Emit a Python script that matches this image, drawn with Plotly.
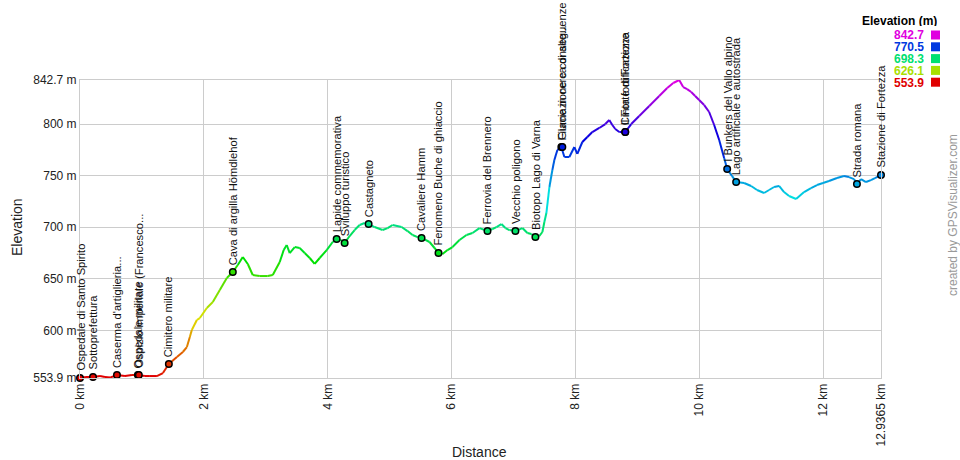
import colorsys
import plotly.graph_objects as go

# ---------------- data ----------------
dist_km = [0, 0.097, 0.210, 0.323, 0.403, 0.484, 0.597, 0.726, 0.839, 0.935, 1.048, 1.129, 1.242, 1.339,
           1.435, 1.565, 1.661, 1.726, 1.774, 1.806, 1.887, 1.935, 2.048, 2.145, 2.258, 2.371, 2.468, 2.548,
           2.629, 2.710, 2.790, 2.903, 3.032, 3.113, 3.226, 3.290, 3.339, 3.387, 3.468, 3.548, 3.629, 3.710,
           3.790, 3.871, 3.984, 4.081, 4.145, 4.210, 4.274, 4.355, 4.435, 4.516, 4.597, 4.661, 4.758, 4.887,
           4.968, 5.048, 5.194, 5.290, 5.371, 5.452, 5.516, 5.645, 5.726, 5.790, 5.855, 5.935, 6.016, 6.129,
           6.242, 6.339, 6.452, 6.581, 6.661, 6.726, 6.806, 6.871, 6.935, 7.032, 7.145, 7.226, 7.290, 7.355,
           7.419, 7.468, 7.500, 7.532, 7.581, 7.629, 7.661, 7.710, 7.774, 7.823, 7.903, 7.984, 8.032, 8.113,
           8.194, 8.274, 8.387, 8.484, 8.548, 8.597, 8.645, 8.710, 8.806, 8.903, 9.032, 9.194, 9.355, 9.484,
           9.581, 9.677, 9.742, 9.806, 9.871, 9.935, 10.000, 10.081, 10.161, 10.242, 10.323, 10.403, 10.452,
           10.532, 10.597, 10.726, 10.839, 10.935, 11.048, 11.129, 11.210, 11.290, 11.371, 11.452, 11.565,
           11.694, 11.806, 11.903, 12.000, 12.097, 12.226, 12.339, 12.419, 12.500, 12.548, 12.613, 12.694,
           12.774, 12.839, 12.9365]

elev_m = [553.9, 554.9, 554.9, 555.8, 554.9, 554.3, 556.8, 555.8, 556.8, 556.8, 555.8, 555.8, 555.8, 558.7,
          567.5, 574.2, 579.1, 583.9, 593.6, 600.4, 610.1, 612.0, 621.7, 627.5, 639.2, 650.8, 656.6, 663.4,
          671.2, 664.4, 653.7, 652.7, 652.7, 653.7, 666.3, 677.9, 682.8, 675.0, 680.8, 679.9, 675.0, 670.2,
          664.4, 670.2, 677.9, 685.7, 688.6, 687.6, 684.7, 691.5, 697.3, 702.2, 704.1, 703.1, 700.2, 697.3,
          699.2, 702.2, 700.2, 696.3, 692.5, 690.5, 689.6, 685.7, 679.9, 675.0, 674.1, 677.9, 680.8, 687.6,
          692.5, 694.4, 699.2, 696.3, 698.3, 700.2, 703.1, 699.2, 697.3, 696.3, 699.2, 694.4, 693.4, 690.5,
          691.5, 695.4, 705.1, 713.8, 739.0, 755.5, 765.1, 774.8, 777.7, 768.1, 768.1, 777.7, 771.0, 782.6,
          787.4, 792.3, 796.2, 800.0, 803.9, 799.1, 795.2, 792.3, 792.3, 800.0, 807.8, 817.5, 827.2, 834.9,
          839.8, 842.7, 835.9, 833.9, 831.0, 827.2, 823.3, 818.4, 811.7, 799.1, 784.5, 767.1, 756.4,
          749.6, 743.8, 742.9, 740.0, 736.1, 733.2, 736.1, 739.0, 740.0, 734.1, 730.3, 727.4,
          734.1, 738.0, 740.9, 742.9, 744.8, 747.7, 749.6, 748.6, 746.7, 741.9, 746.7, 743.8,
          745.7, 747.7, 750.6]

wp_names = ["Ospedale di Santo Spirito", "Sottoprefettura", "Caserma d'artiglieria...",
            "Ospedale militare", "Ospizio imperiale (Francesco...", "Cimitero militare",
            "Cava di argilla Hömdlehof", "Lapide commemorativa", "Sviluppo turistico", "Castagneto",
            "Cavaliere Hamm", "Fenomeno Buche di ghiaccio", "Ferrovia del Brennero", "Vecchio poligono",
            "Biotopo Lago di Varna", "Glaciazione e conseguenze", "Fiume in cerca di alte...",
            "Il Forte di Fortezza", "Cinta fortificazione", "I Bunkers del Vallo alpino",
            "Lago artificiale e autostrada", "Strada romana", "Stazione di Fortezza"]
wp_km = [0.0, 0.210, 0.597, 0.935, 0.950, 1.435, 2.468, 4.145, 4.274, 4.661, 5.516, 5.790, 6.581, 7.032,
         7.355, 7.774, 7.790, 8.806, 8.806, 10.452, 10.597, 12.548, 12.9365]
wp_elev = [553.9, 554.9, 556.8, 556.8, 556.8, 567.5, 656.6, 688.6, 684.7, 703.1, 689.6, 675.0, 696.3, 696.3,
           690.5, 777.7, 777.7, 792.3, 792.3, 756.4, 743.8, 741.9, 750.6]

legend_vals = [842.7, 770.5, 698.3, 626.1, 553.9]
x_tickvals = [0, 2, 4, 6, 8, 10, 12, 12.9365]
x_ticktext = ["0 km", "2 km", "4 km", "6 km", "8 km", "10 km", "12 km", "12.9365 km"]
y_tickvals = [553.9, 600, 650, 700, 750, 800, 842.7]
y_ticktext = ["553.9 m", "600 m", "650 m", "700 m", "750 m", "800 m", "842.7 m"]

# ---------------- helpers ----------------
EMIN, EMAX = min(legend_vals), max(legend_vals)
FONT = "Liberation Sans, Arial, sans-serif"


def elev_color(e):
    f = (e - EMIN) / (EMAX - EMIN)
    f = max(0.0, min(1.0, f))
    r, g, b = colorsys.hsv_to_rgb(f * 300 / 360, 1.0, 0.88)
    return "rgb(%d,%d,%d)" % (round(r * 255), round(g * 255), round(b * 255))


fig = go.Figure()

# coloured line: segments grouped by colour bucket
NB = 60
buckets = {}
for i in range(len(dist_km) - 1):
    m = (elev_m[i] + elev_m[i + 1]) / 2
    k = int(round((m - EMIN) / (EMAX - EMIN) * NB))
    k = max(0, min(NB, k))
    bx, by = buckets.setdefault(k, ([], []))
    bx += [dist_km[i], dist_km[i + 1], None]
    by += [elev_m[i], elev_m[i + 1], None]
for k in sorted(buckets):
    bx, by = buckets[k]
    fig.add_trace(go.Scatter(x=bx, y=by, mode="lines",
                             line=dict(color=elev_color(EMIN + k / NB * (EMAX - EMIN)), width=2),
                             hoverinfo="skip", showlegend=False, connectgaps=False))

# waypoints
fig.add_trace(go.Scatter(x=wp_km, y=wp_elev, mode="markers",
                         marker=dict(size=6.5, color=[elev_color(e) for e in wp_elev],
                                     line=dict(color="black", width=1.5)),
                         text=wp_names, hoverinfo="text", showlegend=False, cliponaxis=False))

annotations = []
for name, x, y in zip(wp_names, wp_km, wp_elev):
    annotations.append(dict(x=x, y=y, xref="x", yref="y", text=name, showarrow=False,
                            textangle=-90, xanchor="center", yanchor="bottom", yshift=5,
                            font=dict(family=FONT, size=11.2, color="#111")))

# axis titles & watermark
W, H = 960, 460
L, R, T, B = 80, 79, 80, 82
pw, ph = W - L - R, H - T - B


def px(x):
    return (x - L) / pw


def py(y):
    return (H - B - y) / ph


annotations.append(dict(x=px(17), y=py(227), xref="paper", yref="paper", text="Elevation",
                        textangle=-90, showarrow=False, xanchor="center", yanchor="middle",
                        font=dict(family=FONT, size=14, color="#222")))
annotations.append(dict(x=px(479), y=py(452), xref="paper", yref="paper", text="Distance",
                        showarrow=False, xanchor="center", yanchor="middle",
                        font=dict(family=FONT, size=14, color="#222")))
annotations.append(dict(x=px(953), y=py(215), xref="paper", yref="paper", text="created by GPSVisualizer.com",
                        textangle=-90, showarrow=False, xanchor="center", yanchor="middle",
                        font=dict(family=FONT, size=12, color="#999")))

# legend
annotations.append(dict(x=px(938), y=py(21), xref="paper", yref="paper", text="<b>Elevation (m)</b>",
                        xanchor="right", yanchor="middle", showarrow=False, height=11, borderpad=0,
                        font=dict(family=FONT, size=12, color="#000")))
shapes = []
for i, v in enumerate(legend_vals):
    yc = 35 + i * 11.8
    c = elev_color(v)
    annotations.append(dict(x=px(925), y=py(yc), xref="paper", yref="paper", text="<b>%.1f</b>" % v,
                            xanchor="right", yanchor="middle", showarrow=False, height=11, borderpad=0,
                            font=dict(family=FONT, size=12, color=c)))
    shapes.append(dict(type="rect", xref="paper", yref="paper", x0=px(931), x1=px(940),
                       y0=py(yc + 4.5), y1=py(yc - 4.5), fillcolor=c, line=dict(width=0)))

fig.update_layout(
    width=W, height=H, margin=dict(l=L, r=R, t=T, b=B),
    paper_bgcolor="white", plot_bgcolor="white",
    font=dict(family=FONT, size=12, color="#333"),
    annotations=annotations, shapes=shapes, showlegend=False,
    xaxis=dict(range=[0, 12.9365], tickvals=x_tickvals, ticktext=x_ticktext, tickangle=-90,
               showgrid=True, gridcolor="#cccccc", gridwidth=1, zeroline=False,
               showline=True, linecolor="#cccccc", mirror=True, ticks="",
               tickfont=dict(family=FONT, size=12, color="#222")),
    yaxis=dict(range=[553.9, 842.7], tickvals=y_tickvals, ticktext=y_ticktext,
               showgrid=True, gridcolor="#cccccc", gridwidth=1, zeroline=False,
               showline=True, linecolor="#cccccc", mirror=True, ticks="",
               tickfont=dict(family=FONT, size=12, color="#222")),
)

fig.write_html("out.html")
